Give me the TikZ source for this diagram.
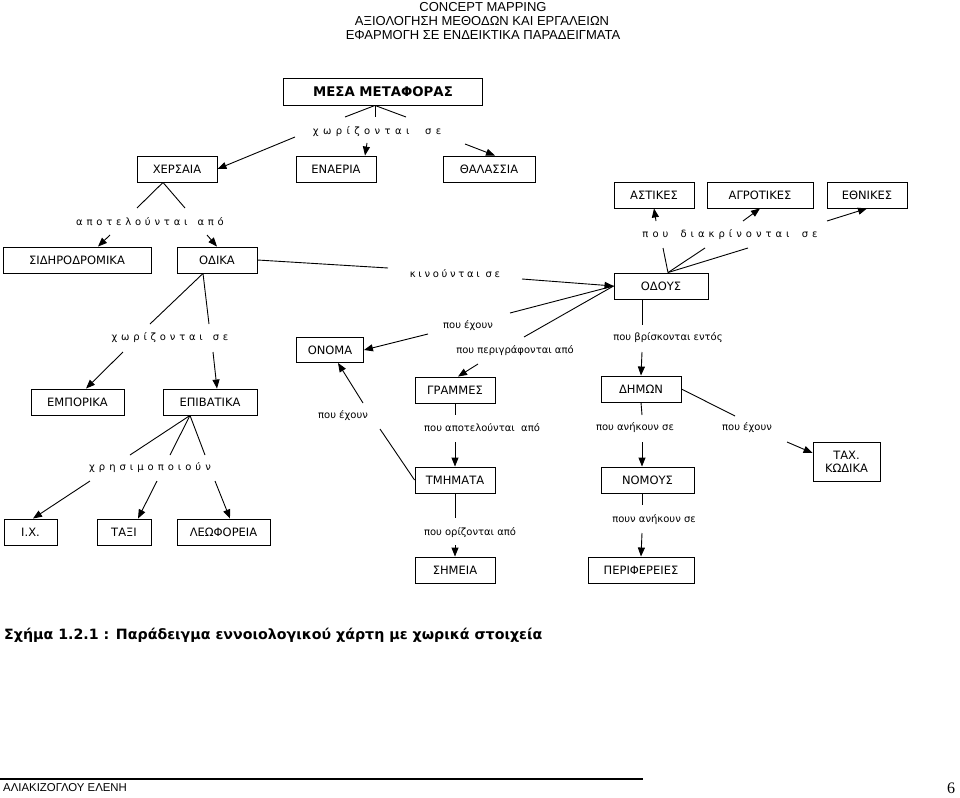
\documentclass[tikz,border=0pt]{standalone}
\usepackage{fontspec}
\setmainfont{DejaVu Sans}
\newfontfamily\headfont{Liberation Sans}
\newfontfamily\spacedfont[LetterSpace=40]{DejaVu Sans}
\newfontfamily\pagefont{Liberation Serif}
\usetikzlibrary{arrows.meta}

\begin{document}
\begin{tikzpicture}[x=1pt,y=1pt,
  box/.style={draw,line width=0.9pt,minimum height=26pt,inner sep=0pt,font=\fontsize{11.5}{13}\selectfont},
  link/.style={inner sep=1pt,font=\fontsize{10}{12}\selectfont},
  spaced/.style={inner sep=1pt,font=\fontsize{10}{12}\spacedfont\addfontfeature{LetterSpace=#1}},
  head/.style={inner sep=0pt,font=\headfont\fontsize{13}{15}\selectfont},
  con/.style={line width=0.9pt},
  arr/.style={con,-{Triangle[length=9pt,width=7pt]}}]
\useasboundingbox (0,0) rectangle (960,-797);

% Header
\node[head] (hdA) at (483,-7) {CONCEPT MAPPING};
\node[head] (hdB) at (482,-21) {ΑΞΙΟΛΟΓΗΣΗ ΜΕΘΟΔΩΝ ΚΑΙ ΕΡΓΑΛΕΙΩΝ};
\node[head] (hdC) at (483,-35) {ΕΦΑΡΜΟΓΗ ΣΕ ΕΝΔΕΙΚΤΙΚΑ ΠΑΡΑΔΕΙΓΜΑΤΑ};

% Concept boxes
\node[box,minimum width=199pt,minimum height=27pt,font=\bfseries\fontsize{13.3}{15}\selectfont] (mesa) at (383,-91.5) {ΜΕΣΑ ΜΕΤΑΦΟΡΑΣ};
\node[box,minimum width=80pt] (xersaia) at (177,-169) {ΧΕΡΣΑΙΑ};
\node[box,minimum width=80pt] (enaeria) at (336,-169) {ΕΝΑΕΡΙΑ};
\node[box,minimum width=92pt] (thalassia) at (489,-169) {ΘΑΛΑΣΣΙΑ};
\node[box,minimum width=148pt] (sidiro) at (77,-260) {ΣΙΔΗΡΟΔΡΟΜΙΚΑ};
\node[box,minimum width=80pt] (odika) at (217,-260) {ΟΔΙΚΑ};
\node[box,minimum width=80pt] (astikes) at (654,-195) {ΑΣΤΙΚΕΣ};
\node[box,minimum width=106pt] (agrotikes) at (760,-195) {ΑΓΡΟΤΙΚΕΣ};
\node[box,minimum width=80pt] (ethnikes) at (867,-195) {ΕΘΝΙΚΕΣ};
\node[box,minimum width=94pt] (odous) at (661,-286) {ΟΔΟΥΣ};
\node[box,minimum width=67pt,minimum height=25pt] (onoma) at (330,-350) {ΟΝΟΜΑ};
\node[box,minimum width=80pt] (grammes) at (455,-390) {ΓΡΑΜΜΕΣ};
\node[box,minimum width=80pt] (tmimata) at (455,-480) {ΤΜΗΜΑΤΑ};
\node[box,minimum width=80pt] (simeia) at (455,-570) {ΣΗΜΕΙΑ};
\node[box,minimum width=80pt] (dimon) at (641,-389) {ΔΗΜΩΝ};
\node[box,minimum width=93pt] (nomous) at (647.5,-480) {ΝΟΜΟΥΣ};
\node[box,minimum width=106pt] (perif) at (641,-570) {ΠΕΡΙΦΕΡΕΙΕΣ};
\node[box,minimum width=67pt,minimum height=39pt,align=center] (taxkod) at (846.5,-461.5) {ΤΑΧ.\\ΚΩΔΙΚΑ};
\node[box,minimum width=93pt] (emporika) at (77.5,-402) {ΕΜΠΟΡΙΚΑ};
\node[box,minimum width=94pt] (epivatika) at (210,-402) {ΕΠΙΒΑΤΙΚΑ};
\node[box,minimum width=53pt] (ix) at (30.5,-532) {Ι.Χ.};
\node[box,minimum width=54pt] (taxi) at (124,-532) {ΤΑΞΙ};
\node[box,minimum width=93pt] (leof) at (223.5,-532) {ΛΕΩΦΟΡΕΙΑ};

% Link phrases
\node[spaced=44] (chorA) at (377,-132) {χωρίζονται\hspace{8pt} σε};
\node[spaced=38] (apotel) at (150,-222) {αποτελούνται\hspace{3pt} από};
\node[spaced=27] (kinoun) at (455,-274) {κινούνται σε};
\node[spaced=40] (diakr) at (730,-235) {που\hspace{5pt} διακρίνονται\hspace{5pt} σε};
\node[link] (exounA) at (468,-326) {που έχουν};
\node[link] (perigr) at (515,-351) {που περιγράφονται από};
\node[link] (vrisk) at (668,-338) {που βρίσκονται εντός};
\node[link] (apotelB) at (482,-428) {που αποτελούνται~ από};
\node[link] (orizon) at (470,-533) {που ορίζονται από};
\node[link] (exounB) at (343,-416) {που έχουν};
\node[link] (anikA) at (635,-428) {που ανήκουν σε};
\node[link] (anikB) at (654,-520) {πουν ανήκουν σε};
\node[link] (exounC) at (747,-428) {που έχουν};
\node[spaced=38] (chorB) at (170,-338) {χωρίζονται\hspace{3pt} σε};
\node[spaced=40] (xrisim) at (150,-468) {χρησιμοποιούν};

% Straight Lines
\draw[con] ([xshift=-8pt]mesa.south) -- ([shift={(-32,15)}]chorA.center);
\draw[con] ([xshift=-8pt]mesa.south) -- ([shift={(-2,15)}]chorA.center);
\draw[con] ([xshift=-8pt]mesa.south) -- ([shift={(29,15)}]chorA.center);
\draw[arr] ([shift={(-82,-5)}]chorA.center) -- (xersaia.east);
\draw[arr] ([shift={(-10,-11)}]chorA.center) -- ([xshift=29pt]enaeria.north);
\draw[arr] ([shift={(88,-12)}]chorA.center) -- ([xshift=6pt]thalassia.north);

\draw[con] ([xshift=-14pt]xersaia.south) -- ([shift={(-13,14)}]apotel.center);
\draw[con] ([xshift=-14pt]xersaia.south) -- ([shift={(35,14)}]apotel.center);
\draw[arr] ([shift={(-40,-13)}]apotel.center) -- ([xshift=21pt]sidiro.north);
\draw[arr] ([shift={(57,-13)}]apotel.center) -- (odika.north);

\draw[con] (odika.east) -- ([shift={(-67,6)}]kinoun.center);
\draw[arr] ([shift={(67,-5)}]kinoun.center) -- (odous.west);

\draw[con] ([xshift=7pt]odous.north) -- ([shift={(-67,-13)}]diakr.center);
\draw[con] ([xshift=7pt]odous.north) -- ([shift={(-25,-13)}]diakr.center);
\draw[con] ([xshift=7pt]odous.north) -- ([shift={(18,-13)}]diakr.center);
\draw[arr] ([shift={(-74,14)}]diakr.center) -- (astikes.south);
\draw[arr] ([shift={(13,14)}]diakr.center) -- (agrotikes.south);
\draw[arr] ([shift={(97,14)}]diakr.center) -- (ethnikes.south);

\draw[con] (odous.west) -- ([shift={(42,13)}]exounA.center);
\draw[con] (odous.west) -- ([shift={(9,14)}]perigr.center);
\draw[arr] ([shift={(-40,-8)}]exounA.center) -- (onoma.east);
\draw[arr] ([shift={(-37,-13)}]perigr.center) -- ([xshift=3pt]grammes.north);

\draw[con] ([xshift=-19pt]odous.south) -- ([shift={(-26,13)}]vrisk.center);
\draw[arr] ([shift={(-26,-14)}]vrisk.center) -- (dimon.north);

\draw[con] (grammes.south) -- ([shift={(-27,13)}]apotelB.center);
\draw[arr] ([shift={(-27,-14)}]apotelB.center) -- (tmimata.north);

\draw[con] (tmimata.south) -- ([shift={(-15,15)}]orizon.center);
\draw[arr] ([shift={(-15,-12)}]orizon.center) -- (simeia.north);

\draw[con] (tmimata.west) -- ([shift={(37,-13)}]exounB.center);
\draw[arr] ([shift={(20,13)}]exounB.center) -- ([xshift=8pt]onoma.south);

\draw[con] (dimon.south) -- ([shift={(7,13)}]anikA.center);
\draw[arr] ([shift={(7,-14)}]anikA.center) -- ([xshift=-5.5pt]nomous.north);

\draw[con] ([xshift=-5.5pt]nomous.south) -- ([shift={(-12,15)}]anikB.center);
\draw[arr] ([shift={(-12,-13)}]anikB.center) -- (perif.north);

\draw[con] (dimon.east) -- ([shift={(-12,12)}]exounC.center);
\draw[arr] ([shift={(40,-14)}]exounC.center) -- ([yshift=8.5pt]taxkod.west);

\draw[con] ([xshift=-14pt]odika.south) -- ([shift={(-20,14)}]chorB.center);
\draw[con] ([xshift=-14pt]odika.south) -- ([shift={(39,14)}]chorB.center);
\draw[arr] ([shift={(-47,-14)}]chorB.center) -- ([xshift=8.5pt]emporika.north);
\draw[arr] ([shift={(43,-14)}]chorB.center) -- ([xshift=7pt]epivatika.north);

\draw[con] ([xshift=-20pt]epivatika.south) -- ([shift={(-20,13)}]xrisim.center);
\draw[con] ([xshift=-20pt]epivatika.south) -- ([shift={(20,13)}]xrisim.center);
\draw[con] ([xshift=-20pt]epivatika.south) -- ([shift={(55,13)}]xrisim.center);
\draw[arr] ([shift={(-60,-13)}]xrisim.center) -- ([xshift=2.5pt]ix.north);
\draw[arr] ([shift={(7,-13)}]xrisim.center) -- ([xshift=14pt]taxi.north);
\draw[arr] ([shift={(65,-13)}]xrisim.center) -- ([xshift=6.5pt]leof.north);

% Caption and footer
\node[anchor=west,inner sep=0pt,font=\bfseries\fontsize{14.2}{16}\selectfont] (caption) at (4,-635) {Σχήμα 1.2.1 : Παράδειγμα εννοιολογικού χάρτη με χωρικά στοιχεία};
\draw[line width=1.2pt] (0,-779) -- (643,-779);
\node[anchor=west,inner sep=0pt,font=\headfont\fontsize{11.4}{13}\selectfont] (author) at (3,-788) {ΑΛΙΑΚΙΖΟΓΛΟΥ ΕΛΕΝΗ};
\node[inner sep=0pt,font=\pagefont\fontsize{16}{18}\selectfont] (page) at (951,-788) {6};
\end{tikzpicture}
\end{document}
